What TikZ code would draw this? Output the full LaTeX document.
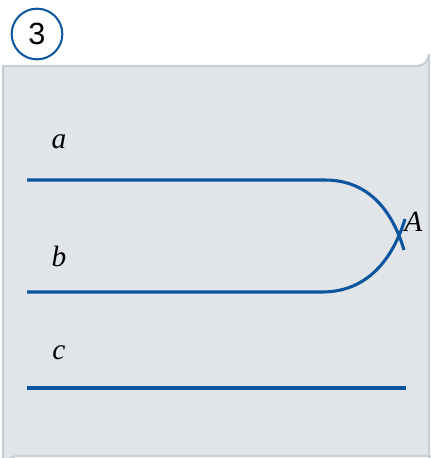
\documentclass[tikz,border=0pt]{standalone}
\usepackage{fontspec}
\setmainfont{Liberation Serif}
\newfontfamily\numfont{Liberation Sans}
\usetikzlibrary{positioning}
\definecolor{panelfill}{HTML}{E1E4E8}
\definecolor{paneledge}{HTML}{CBCED2}
\definecolor{lineblue}{HTML}{0A55A0}

\begin{document}
\begin{tikzpicture}[
    x=0.75pt, y=-0.75pt,
    wire/.style={draw=lineblue, line width=2.3pt},
    lbl/.style={font=\fontsize{22}{26}\selectfont\itshape, inner sep=0pt},
    badge/.style={draw=lineblue, circle, line width=1.5pt, minimum size=38pt, inner sep=0pt, font=\numfont\fontsize{23}{26}\selectfont},
]
    \useasboundingbox (0,0) rectangle (430,458);

    % Panel
    \fill[panelfill, draw=paneledge, line width=1.6pt]
        (3,66) -- (417,66) arc[start angle=90, end angle=0, radius=12]
        -- (429,470) -- (440,470) -- (440,456) -- (18,456)
        arc[start angle=270, end angle=180, radius=15] -- cycle;

    % Number badge
    \node[badge] (num) at (37,34) {3};

    % Labels
    \node[lbl] (la) at (59,142) {a};
    \node[lbl] (lb) at (59,256) {b};
    \node[lbl] (lc) at (59,353) {c};
    \node[lbl, anchor=west] (lA) at (404,222) {A};

    % Line ends
    \coordinate (a0) at (27,180);
    \coordinate (a1) at (325,180);
    \coordinate (aend) at (404,250);
    \coordinate (b0) at (27,292);
    \coordinate (b1) at (322,292);
    \coordinate (bend) at (405,219);
    \coordinate (c0) at (27,388);
    \coordinate (c1) at (406,388);

    % Lines
    \draw[wire] (a0) -- (a1) .. controls (372,180) and (394,216) .. (aend);
    \draw[wire] (b0) -- (b1) .. controls (372,292) and (395,252) .. (bend);
    \draw[wire] (c0) -- (c1);

\end{tikzpicture}
\end{document}
